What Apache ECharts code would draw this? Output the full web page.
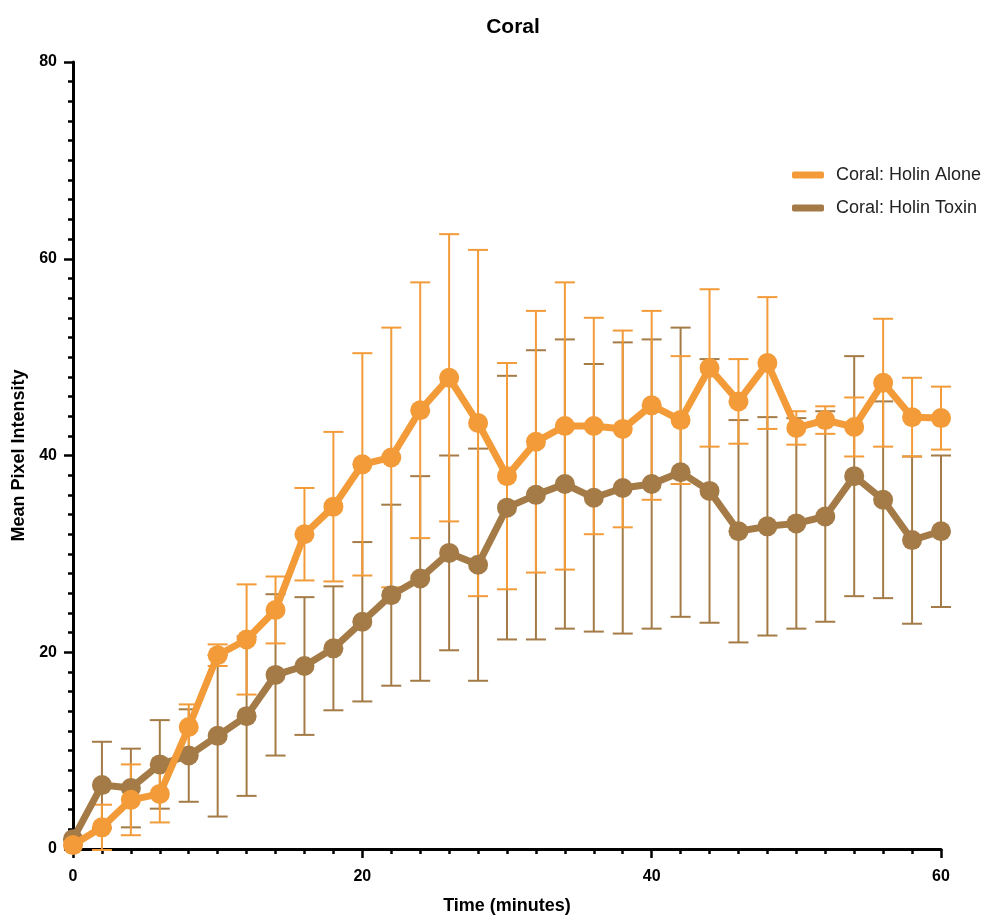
<!DOCTYPE html>
<html>
<head>
<meta charset="utf-8">
<script src="https://cdn.jsdelivr.net/npm/echarts@6/dist/echarts.min.js"></script>
<style>html,body{margin:0;padding:0;background:#fff}#c{width:994px;height:916px}</style>
</head>
<body>
<div id="c"></div>
<script>
const time = [0,2,4,6,8,10,12,14,16,18,20,22,24,26,28,30,32,34,36,38,40,42,44,46,48,50,52,54,56,58,60];
const aloneMean = [0.4,2.2,5.0,5.6,12.4,19.7,21.3,24.3,32.0,34.8,39.1,39.8,44.6,47.9,43.3,37.9,41.4,43.0,43.0,42.7,45.1,43.6,48.9,45.5,49.4,42.8,43.6,42.9,47.4,43.9,43.8];
const aloneErr  = [0,2.3,3.6,2.9,2.3,1.1,5.6,3.4,4.7,7.6,11.3,13.2,13.0,14.6,17.6,11.5,13.3,14.6,11.0,10.0,9.6,6.5,8.0,4.3,6.7,1.7,1.4,3.0,6.5,4.0,3.2];
const toxinMean = [1.0,6.5,6.2,8.6,9.5,11.5,13.5,17.7,18.6,20.4,23.1,25.8,27.5,30.1,28.9,34.7,36.0,37.1,35.7,36.7,37.1,38.3,36.4,32.3,32.8,33.1,33.8,37.9,35.5,31.4,32.3];
const toxinErr  = [0,4.4,4.0,4.5,4.7,8.2,8.1,8.2,7.0,6.3,8.1,9.2,10.4,9.9,11.8,13.4,14.7,14.7,13.6,14.8,14.7,14.7,13.4,11.3,11.1,10.7,10.7,12.2,10.0,8.5,7.7];
const seriesNames = ['Coral: Holin Alone','Coral: Holin Toxin'];
const xTicks = [0,20,40,60];
const yTicks = [0,20,40,60,80];

const ORANGE = '#F29B38';
const BROWN = '#A47B46';
const FONT = '"Liberation Sans", Arial, Helvetica, sans-serif';

function errData(mean, err){
  return time.map((t,i)=>[t, mean[i]-err[i], mean[i]+err[i]]);
}
function errRender(color){
  return function(params, api){
    const x = api.value(0);
    const lo = api.coord([x, api.value(1)]);
    const hi = api.coord([x, api.value(2)]);
    const hw = 10;
    const style = {stroke: color, lineWidth: 2, fill: null};
    return {type:'group', children:[
      {type:'line', shape:{x1:lo[0], y1:lo[1], x2:hi[0], y2:hi[1]}, style},
      {type:'line', shape:{x1:lo[0]-hw, y1:lo[1], x2:lo[0]+hw, y2:lo[1]}, style},
      {type:'line', shape:{x1:hi[0]-hw, y1:hi[1], x2:hi[0]+hw, y2:hi[1]}, style}
    ]};
  };
}

const chart = echarts.init(document.getElementById('c'), null, {renderer:'canvas'});
const axisCommon = {
  axisLine:{show:true, onZero:false, lineStyle:{color:'#000', width:3}},
  axisTick:{show:true, length:9, lineStyle:{color:'#000', width:2.5}},
  minorTick:{show:true, splitNumber:10, length:5, lineStyle:{color:'#000', width:2.5}},
  splitLine:{show:false},
  minorSplitLine:{show:false},
  axisLabel:{color:'#000', fontFamily:FONT, fontWeight:'bold', fontSize:16},
  nameTextStyle:{color:'#000', fontFamily:FONT, fontWeight:'bold', fontSize:18}
};
chart.setOption({
  animation:false,
  backgroundColor:'#fff',
  title:{text:'Coral', left:508, top:12, textAlign:'center',
    textStyle:{fontFamily:FONT, fontWeight:'bold', fontSize:21, color:'#000'}},
  legend:{
    orient:'vertical', left:792, top:166, padding:0, itemWidth:32, itemHeight:7, itemGap:15,
    icon:'roundRect',
    data:seriesNames,
    textStyle:{fontFamily:FONT, fontSize:18, color:'#222', padding:[0,0,0,7]}
  },
  grid:{left:73, right:53, top:62, bottom:67, containLabel:false, outerBoundsMode:'none'},
  xAxis:Object.assign({}, axisCommon, {
    type:'value', min:0, max:60, interval:20,
    name:'Time (minutes)', nameLocation:'middle', nameGap:48,
    axisLabel:Object.assign({}, axisCommon.axisLabel, {margin:20, formatter:v=>xTicks.includes(v)?String(v):''})
  }),
  yAxis:Object.assign({}, axisCommon, {
    type:'value', min:0, max:80, interval:20,
    name:'Mean Pixel Intensity', nameLocation:'middle', nameGap:44, nameRotate:90,
    axisLabel:Object.assign({}, axisCommon.axisLabel, {margin:16, formatter:v=>yTicks.includes(v)?String(v):''})
  }),
  series:[
    {type:'custom', name:'toxinErr', renderItem:errRender(BROWN), data:errData(toxinMean,toxinErr), z:1, silent:true, encode:{x:0,y:[1,2]}},
    {type:'custom', name:'aloneErr', renderItem:errRender(ORANGE), data:errData(aloneMean,aloneErr), z:2, silent:true, encode:{x:0,y:[1,2]}},
    {type:'line', name:seriesNames[1], data:time.map((t,i)=>[t,toxinMean[i]]), z:3,
      color:BROWN, symbol:'circle', symbolSize:20, showSymbol:true,
      lineStyle:{width:7, color:BROWN}, itemStyle:{color:BROWN, borderWidth:0}},
    {type:'line', name:seriesNames[0], data:time.map((t,i)=>[t,aloneMean[i]]), z:4,
      color:ORANGE, symbol:'circle', symbolSize:20, showSymbol:true,
      lineStyle:{width:7, color:ORANGE}, itemStyle:{color:ORANGE, borderWidth:0}}
  ]
});
</script>
</body>
</html>
